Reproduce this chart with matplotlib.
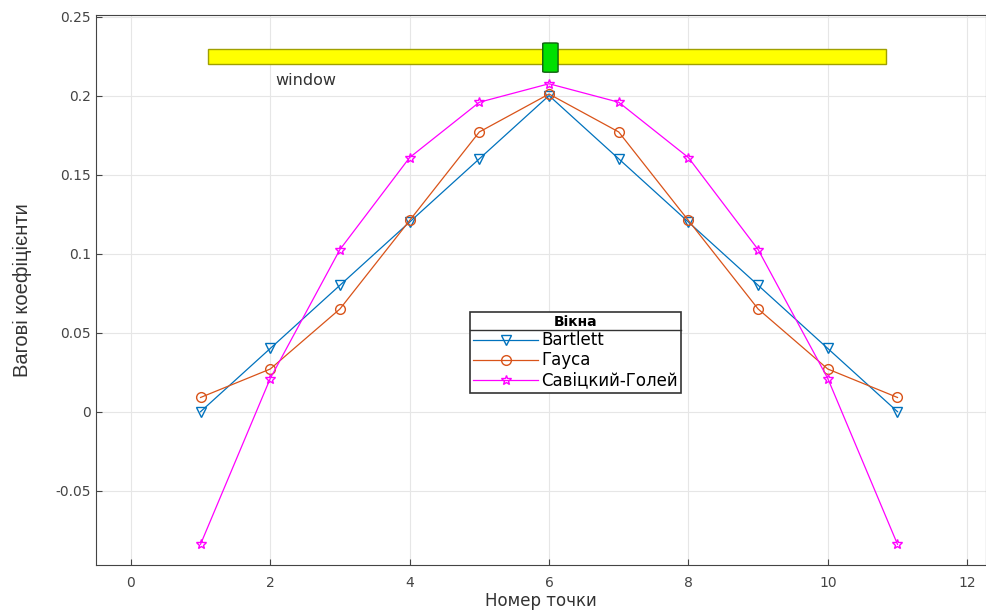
import numpy as np
import matplotlib.pyplot as plt
from matplotlib.patches import Rectangle, FancyBboxPatch
from matplotlib.lines import Line2D

plt.rcParams['font.family'] = ['DejaVu Sans']

n = np.arange(1, 12)
bartlett = [0, 0.04, 0.08, 0.12, 0.16, 0.2, 0.16, 0.12, 0.08, 0.04, 0]
gauss = [0.009, 0.027, 0.065, 0.121, 0.177, 0.201, 0.177, 0.121, 0.065, 0.027, 0.009]
sg = [-0.0839, 0.021, 0.1026, 0.1608, 0.1958, 0.2075, 0.1958, 0.1608, 0.1026, 0.021, -0.0839]

fig = plt.figure(figsize=(9.87, 6.13), dpi=100)
ax = fig.add_axes([96/987, 48/613, 890/987, 550/613])

ax.plot(n, bartlett, color=(0, 0.447, 0.741), lw=0.9, marker='v', ms=7,
        mfc='none', label='Bartlett')
ax.plot(n, gauss, color=(0.85, 0.325, 0.098), lw=0.9, marker='o', ms=7,
        mfc='none', label='Гауса')
ax.plot(n, sg, color='magenta', lw=0.9, marker='*', ms=7,
        mfc='none', label='Савіцкий-Голей')

# window bar
ax.add_patch(Rectangle((1.1, 0.22), 9.73, 0.0095, fc='yellow', ec='#a0a000', lw=1, zorder=3))
ax.add_patch(FancyBboxPatch((5.91, 0.2148), 0.22, 0.0185, boxstyle='round,pad=0,rounding_size=0.04',
                            fc='#00e000', ec='#106010', lw=1, zorder=4,
                            mutation_aspect=0.01))
ax.text(2.08, 0.2095, 'window', fontsize=11.5, ha='left', va='center', color='#333333')

ax.set_xlim(-0.5, 12.27)
ax.set_ylim(-0.097, 0.251)
ax.set_xticks(np.arange(0, 13, 2))
ax.set_yticks([-0.05, 0, 0.05, 0.1, 0.15, 0.2, 0.25])
ax.set_yticklabels(['-0.05', '0', '0.05', '0.1', '0.15', '0.2', '0.25'])
ax.grid(True, color='#e6e6e6', lw=0.8)
ax.set_axisbelow(True)
ax.tick_params(direction='in', labelsize=10, colors='#444444', length=4)
ax.tick_params(axis='x', pad=8)
for s in ax.spines.values():
    s.set_color('#444444')

ax.set_xlabel('Номер точки', fontsize=12, color='#333333', labelpad=1)
ax.set_ylabel('Вагові коефіцієнти', fontsize=14.5, color='#333333', labelpad=17,
              family=['Liberation Sans'])

leg = ax.legend(loc='upper left', bbox_to_anchor=(0.42, 0.46), title='Вікна',
                fontsize=12, title_fontproperties={'weight': 'bold', 'size': 10},
                fancybox=False, edgecolor='#333333', framealpha=1,
                handlelength=3.9, borderpad=0.2, labelspacing=0.12,
                handletextpad=0.2, borderaxespad=0)
leg.get_frame().set_linewidth(1.2)

# separator line under legend title
fig.canvas.draw()
fb = leg.get_frame().get_window_extent()
tb = leg.get_title().get_window_extent()
ysep = tb.y0 - 1
inv = fig.transFigure.inverted()
x0, y0 = inv.transform((fb.x0, ysep))
x1, _ = inv.transform((fb.x1, ysep))
fig.add_artist(Line2D([x0, x1], [y0, y0], color='#333333', lw=1.0))

fig.savefig('out.png', dpi=100)
